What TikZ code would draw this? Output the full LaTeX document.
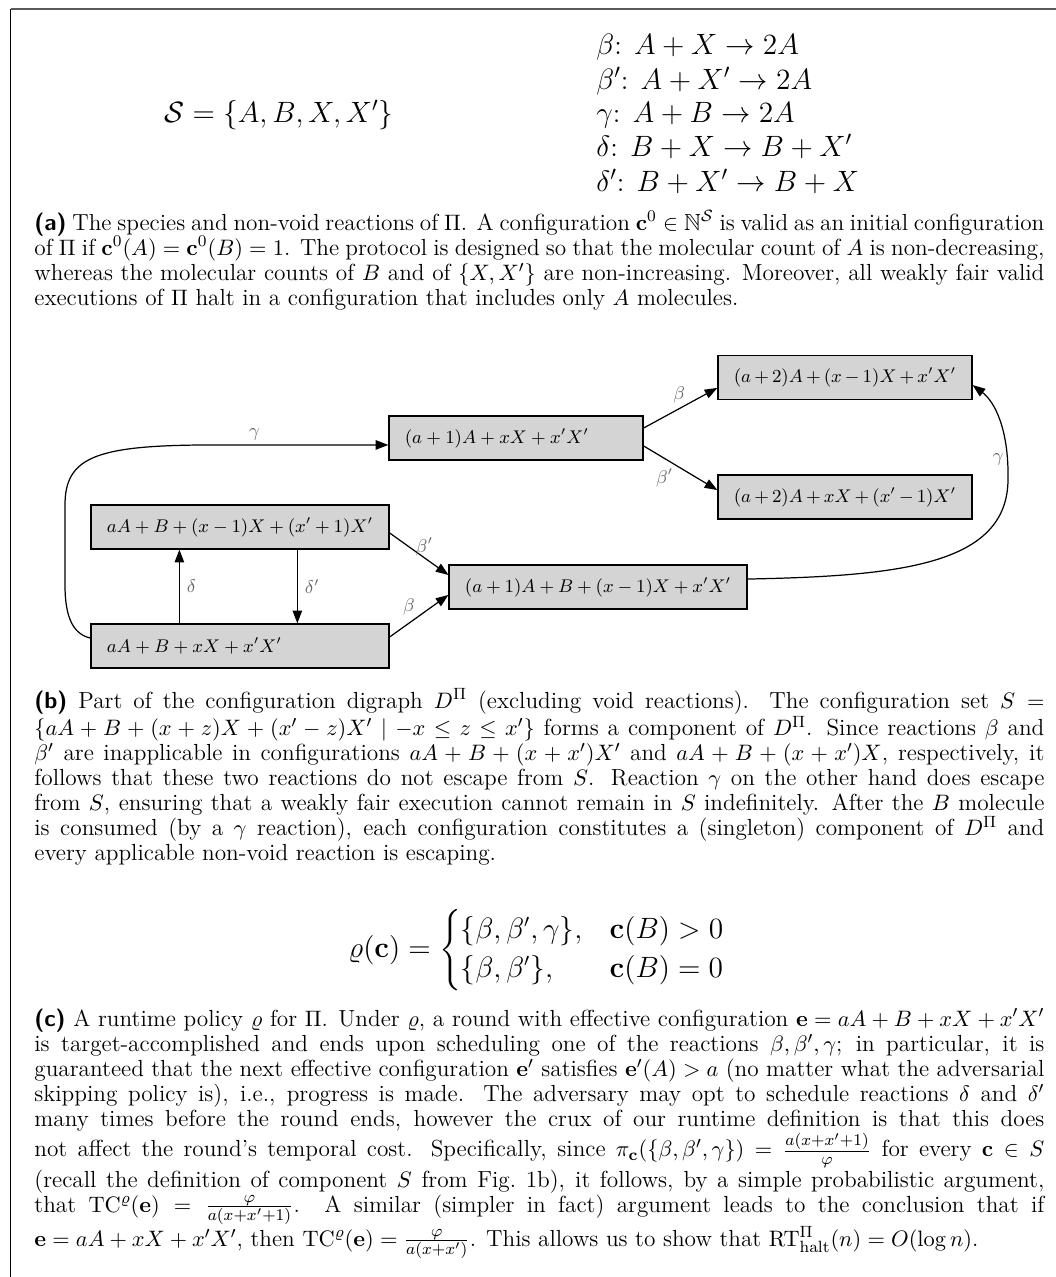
\documentclass[tikz,border=0pt]{standalone}
\usepackage{amsmath,amssymb}
\usetikzlibrary{arrows.meta,calc}
\begin{document}
\begin{tikzpicture}[x=0.49pt,y=-0.49pt,
  cfg/.style={draw=black, line width=0.6pt, fill=black!17, font=\fontsize{9.2}{11}\selectfont, inner xsep=7.8pt, inner ysep=0pt, minimum height=21.6pt, align=left},
  cfgs/.style={cfg, text width=108.9pt},
  cfgl/.style={cfg, text width=130.4pt},
  arr/.style={-{Triangle[length=6.2pt,width=4.6pt]}, line width=0.6pt},
  lbl/.style={font=\fontsize{9.2}{11}\selectfont, text=black!60, inner sep=1pt},
  captxt/.style={text width=494.9pt, align=justify, anchor=base west, inner sep=0pt, font=\fontsize{11.4}{12.3}\selectfont},
  bigtxt/.style={font=\fontsize{13.7}{16}\selectfont, inner sep=0pt}]
\useasboundingbox (0,0) rectangle (1056,1277);
% frame
\draw[black!65, line width=0.7pt] (10.8,9) -- (1056,9);
\draw[black, line width=0.6pt] (10.8,9) -- (10.8,1277);
% (a)
\node[bigtxt, anchor=base] (sp) at (279,122) {$\mathcal{S} = \{A, B, X, X'\}$};
\node[bigtxt, anchor=base west] (r1) at (596,54.5) {$\beta$: $A + X \to 2A$};
\node[bigtxt, anchor=base west] (r2) at (596,89) {$\beta'$: $A + X' \to 2A$};
\node[bigtxt, anchor=base west] (r3) at (596,122) {$\gamma$: $A + B \to 2A$};
\node[bigtxt, anchor=base west] (r4) at (596,156.5) {$\delta$: $B + X \to B + X'$};
\node[bigtxt, anchor=base west] (r5) at (596,191) {$\delta'$: $B + X' \to B + X$};
\node[captxt] (capa) at (34,230) {\textsf{\textbf{(a)}} The species and non-void reactions of $\Pi$. A configuration $\mathbf{c}^0 \in \mathbb{N}^{\mathcal{S}}$ is valid as an initial configuration\linebreak of $\Pi$ if $\mathbf{c}^0(A) = \mathbf{c}^0(B) = 1$. The protocol is designed so that the molecular count of $A$ is non-decreasing,\linebreak whereas the molecular counts of $B$ and of $\{X, X'\}$ are non-increasing. Moreover, all weakly fair valid\linebreak executions of $\Pi$ halt in a configuration that includes only $A$ molecules.};
% (b) digraph
\node[cfgs] (b1) at (845,377.5) {$(a+2)A + (x-1)X + x'X'$};
\node[cfgs] (b2) at (516,438) {$(a+1)A + xX + x'X'$};
\node[cfgs] (b3) at (845,497) {$(a+2)A + xX + (x'-1)X'$};
\node[cfgl] (b4) at (240,527) {$aA + B + (x-1)X + (x'+1)X'$};
\node[cfgl] (b5) at (598,587) {$(a+1)A + B + (x-1)X + x'X'$};
\node[cfgl] (b6) at (240,646) {$aA + B + xX + x'X'$};
\draw[arr] ([yshift=4.9pt]b2.east) -- node[lbl, xshift=-0.7pt, yshift=6.4pt]{$\beta$} ([yshift=-5.1pt]b1.west);
\draw[arr] ([yshift=-3.9pt]b2.east) -- node[lbl, xshift=-7.8pt, yshift=-4.9pt]{$\beta'$} ([yshift=3.4pt]b3.west);
\draw[arr] ([yshift=-2.9pt]b4.east) -- node[lbl, xshift=2.7pt, yshift=3.6pt]{$\beta'$} ([yshift=5.9pt]b5.west);
\draw[arr] ([yshift=4.4pt]b6.east) -- node[lbl, xshift=-4.9pt, yshift=4.4pt]{$\beta$} ([yshift=-3.9pt]b5.west);
\draw[arr] ([xshift=43.6pt]b6.north west) -- node[lbl, xshift=5.9pt]{$\delta$} ([xshift=43.6pt]b4.south west);
\draw[arr] ([xshift=101.4pt]b4.south west) -- node[lbl, xshift=7.3pt]{$\delta'$} ([xshift=101.4pt]b6.north west);
\draw[arr] ([yshift=3.9pt]b6.west) .. controls (72,634) and (65,615) .. (65,585) -- (65,505) .. controls (65,458) and (95,446) .. (200,445) -- node[lbl, pos=0.29, yshift=5pt]{$\gamma$} ([yshift=-3.4pt]b2.west);
\draw[arr] ([yshift=3.9pt]b5.east) .. controls (900,576) and (1007,565) .. (1008,480) .. controls (1009,430) and (995,402) .. node[lbl, pos=0.15, xshift=-4.5pt]{$\gamma$} ([yshift=-3.7pt]b1.east);
\node[captxt] (capb) at (34,708) {\textsf{\textbf{(b)}} Part of the configuration digraph $D^{\Pi}$ (excluding void reactions). The configuration set $S =$\linebreak $\{aA + B + (x+z)X + (x'-z)X' \mid -x \leq z \leq x'\}$ forms a component of $D^{\Pi}$. Since reactions $\beta$ and\linebreak $\beta'$ are inapplicable in configurations $aA + B + (x+x')X'$ and $aA + B + (x+x')X$, respectively, it\linebreak follows that these two reactions do not escape from $S$. Reaction $\gamma$ on the other hand does escape\linebreak from $S$, ensuring that a weakly fair execution cannot remain in $S$ indefinitely. After the $B$ molecule\linebreak is consumed (by a $\gamma$ reaction), each configuration constitutes a (singleton) component of $D^{\Pi}$ and\linebreak every applicable non-void reaction is escaping.};
% (c)
\node[bigtxt, font=\fontsize{13.3}{16}\selectfont] (rho) at (537,950) {$\displaystyle \varrho(\mathbf{c}) = \begin{cases} \{\beta,\beta',\gamma\}, & \mathbf{c}(B) > 0\\ \{\beta,\beta'\}, & \mathbf{c}(B) = 0\end{cases}$};
\node[captxt] (capc) at (34,1026) {\textsf{\textbf{(c)}} A runtime policy $\varrho$ for $\Pi$. Under $\varrho$, a round with effective configuration $\mathbf{e} = aA + B + xX + x'X'$\linebreak is target-accomplished and ends upon scheduling one of the reactions $\beta, \beta', \gamma$; in particular, it is\linebreak guaranteed that the next effective configuration $\mathbf{e}'$ satisfies $\mathbf{e}'(A) > a$ (no matter what the adversarial\linebreak skipping policy is), i.e., progress is made. The adversary may opt to schedule reactions $\delta$ and $\delta'$\linebreak many times before the round ends, however the crux of our runtime definition is that this does\linebreak not affect the round's temporal cost. Specifically, since $\pi_{\mathbf{c}}(\{\beta, \beta', \gamma\}) = \frac{a(x+x'+1)}{\varphi}$ for every $\mathbf{c} \in S$\linebreak (recall the definition of component $S$ from Fig.~1b), it follows, by a simple probabilistic argument,\linebreak that $\mathrm{TC}^{\varrho}(\mathbf{e}) = \frac{\varphi}{a(x+x'+1)}$. A similar (simpler in fact) argument leads to the conclusion that if\linebreak $\mathbf{e} = aA + xX + x'X'$, then $\mathrm{TC}^{\varrho}(\mathbf{e}) = \frac{\varphi}{a(x+x')}$. This allows us to show that $\mathrm{RT}^{\Pi}_{\mathrm{halt}}(n) = O(\log n)$.};
\end{tikzpicture}
\end{document}
